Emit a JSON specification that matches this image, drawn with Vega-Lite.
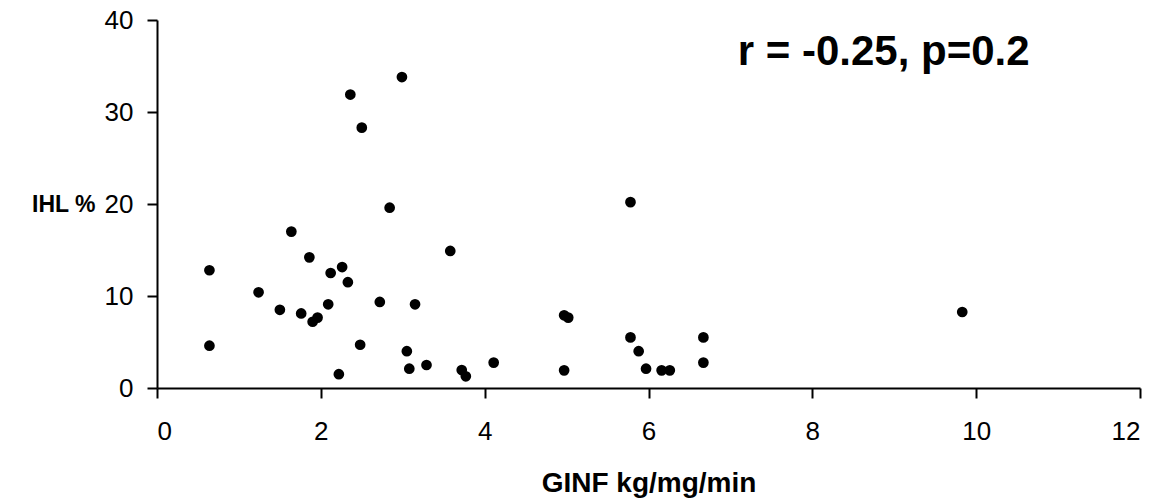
{
  "$schema": "https://vega.github.io/schema/vega-lite/v6.json",
  "autosize": "none",
  "padding": {"left": 157, "top": 20, "right": 33, "bottom": 116},
  "width": 983,
  "height": 368,
  "background": "white",
  "config": {
    "view": {"stroke": null},
    "font": "Liberation Sans",
    "axis": {
      "grid": false,
      "domainColor": "black",
      "domainWidth": 2,
      "tickColor": "black",
      "tickWidth": 2,
      "tickSize": 10,
      "labelColor": "black",
      "labelFont": "Liberation Sans",
      "labelFontSize": 26,
      "titleColor": "black",
      "titleFont": "Liberation Sans",
      "titleFontWeight": "bold"
    }
  },
  "layer": [
    {
      "data": {
        "values": [
          {"ginf": 0.64, "ihl": 12.8},
          {"ginf": 0.64, "ihl": 4.6},
          {"ginf": 1.24, "ihl": 10.4},
          {"ginf": 1.50, "ihl": 8.5},
          {"ginf": 1.64, "ihl": 17.0},
          {"ginf": 1.76, "ihl": 8.1},
          {"ginf": 1.86, "ihl": 14.2},
          {"ginf": 1.90, "ihl": 7.2},
          {"ginf": 1.96, "ihl": 7.65},
          {"ginf": 2.09, "ihl": 9.1},
          {"ginf": 2.12, "ihl": 12.5},
          {"ginf": 2.22, "ihl": 1.5},
          {"ginf": 2.26, "ihl": 13.15},
          {"ginf": 2.33, "ihl": 11.5},
          {"ginf": 2.36, "ihl": 31.9},
          {"ginf": 2.48, "ihl": 4.7},
          {"ginf": 2.50, "ihl": 28.3},
          {"ginf": 2.72, "ihl": 9.35},
          {"ginf": 2.84, "ihl": 19.6},
          {"ginf": 2.99, "ihl": 33.8},
          {"ginf": 3.05, "ihl": 4.0},
          {"ginf": 3.08, "ihl": 2.1},
          {"ginf": 3.15, "ihl": 9.1},
          {"ginf": 3.29, "ihl": 2.5},
          {"ginf": 3.58, "ihl": 14.9},
          {"ginf": 3.72, "ihl": 1.95},
          {"ginf": 3.77, "ihl": 1.27},
          {"ginf": 4.11, "ihl": 2.76},
          {"ginf": 4.97, "ihl": 7.9},
          {"ginf": 5.02, "ihl": 7.65},
          {"ginf": 4.97, "ihl": 1.92},
          {"ginf": 5.78, "ihl": 20.2},
          {"ginf": 5.78, "ihl": 5.5},
          {"ginf": 5.88, "ihl": 4.0},
          {"ginf": 5.97, "ihl": 2.1},
          {"ginf": 6.16, "ihl": 1.92},
          {"ginf": 6.26, "ihl": 1.92},
          {"ginf": 6.67, "ihl": 5.5},
          {"ginf": 6.67, "ihl": 2.76},
          {"ginf": 9.83, "ihl": 8.26}
        ]
      },
      "mark": {"type": "circle", "size": 115, "color": "black", "opacity": 1},
      "encoding": {
        "x": {
          "field": "ginf", "type": "quantitative",
          "scale": {"domain": [0, 12], "nice": false, "zero": true},
          "axis": {"values": [0, 2, 4, 6, 8, 10, 12], "format": "d", "title": "GINF kg/mg/min", "titleFontSize": 28, "labelPadding": 20, "titleY": 81, "titleBaseline": "top"}
        },
        "y": {
          "field": "ihl", "type": "quantitative",
          "scale": {"domain": [0, 40], "nice": false},
          "axis": {"values": [0, 10, 20, 30, 40], "format": "d", "title": "IHL %", "titleFontSize": 23, "labelPadding": 14, "titleAngle": 0, "titleAlign": "right", "titleBaseline": "middle", "titleX": -62, "titleY": 184}
        }
      }
    },
    {
      "data": {"values": [{"ginf": 7.09, "ihl": 35.1, "label": "r = -0.25, p=0.2"}]},
      "mark": {"type": "text", "align": "left", "baseline": "alphabetic", "font": "Liberation Sans", "fontSize": 42, "fontWeight": "bold", "color": "black"},
      "encoding": {
        "x": {"field": "ginf", "type": "quantitative"},
        "y": {"field": "ihl", "type": "quantitative"},
        "text": {"field": "label"}
      }
    }
  ]
}
